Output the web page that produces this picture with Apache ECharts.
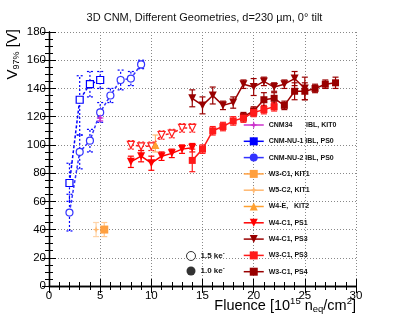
<!DOCTYPE html>
<html><head><meta charset="utf-8">
<script src="https://cdn.jsdelivr.net/npm/echarts@6.0.0/dist/echarts.min.js"></script>
<style>html,body{margin:0;padding:0;background:#fff}#c{width:409px;height:317px}</style>
</head><body><div id="c"></div>
<script>
// ---- data ----
const xTicks = [0, 5, 10, 15, 20, 25, 30];
const yTicks = [0, 20, 40, 60, 80, 100, 120, 140, 160, 180];

const cnm34X = [5], cnm34Y = [119], cnm34Err = [2];
const nu1X = [2, 3, 4, 5], nu1Y = [73, 132, 143, 146], nu1Lo = [60, 107, 134, 140], nu1Hi = [87, 149, 152, 152];
const nu2X = [2, 3, 4, 5, 6, 7, 8, 9], nu2Y = [52, 95, 103, 123, 135, 146, 147, 157], nu2Err = [13, 12, 8, 7, 5, 7, 5, 3];
const w3kX = [5.4], w3kY = [40], w3kErr = [5];
const w5kX = [4.6], w5kY = [40], w5kErr = [5];
const w4eX = [10.4], w4eY = [100], w4eLo = [95], w4eHi = [107];
const w4ps1X = [8, 9, 10, 11, 12, 13, 14], w4ps1Y = [88, 92, 87, 92, 94, 97, 98], w4ps1Err = [4, 4, 5, 3, 3, 3, 3];
const w4ps1oX = [8, 9, 10, 11, 12, 13, 14], w4ps1oY = [100, 99, 99, 107, 108, 112, 112], w4ps1oErr = [3, 3, 3, 3, 3, 3, 3];
const w4ps3X = [14, 15, 16, 17, 18, 19, 20, 21, 22, 23, 24, 25], w4ps3Y = [133, 128, 135, 128, 130, 143, 141, 145, 141, 143, 147, 140], w4ps3Err = [6, 6, 6, 3, 4, 3, 6, 3, 3, 3, 5, 8];
const w3ps3X = [14, 15, 16, 17, 18, 19, 20, 21, 22], w3ps3Y = [89, 97, 110, 113, 117, 119, 123, 125, 127], w3ps3Err = [8, 3, 3, 3, 3, 3, 3, 3, 3];
const w3ps4X = [19, 20, 21, 22, 23, 24, 25, 26, 27, 28], w3ps4Y = [120, 124, 132, 133, 128, 138, 138, 140, 143, 144], w3ps4Err = [3, 3, 5, 4, 3, 6, 6, 3, 3, 4];

const names = ['CNM34 IBL, KIT0', 'CNM-NU-1 IBL, PS0', 'CNM-NU-2 IBL, PS0', 'W3-C1, KIT1', 'W5-C2, KIT1', 'W4-E, KIT2', 'W4-C1, PS1', 'W4-C1, PS3', 'W3-C1, PS3', 'W3-C1, PS4'];
const labels = ['CNM34       IBL, KIT0', 'CNM-NU-1 IBL, PS0', 'CNM-NU-2 IBL, PS0', 'W3-C1, KIT1', 'W5-C2, KIT1', 'W4-E,   KIT2', 'W4-C1, PS1', 'W4-C1, PS3', 'W3-C1, PS3', 'W3-C1, PS4'];
const colors = ['#cc33cc', '#0000ff', '#3333ff', '#ffa040', '#ffb870', '#ffa030', '#ff0000', '#990000', '#ff1a1a', '#990000'];

// ---- styling ----
const F = 'Liberation Sans, Arial, Helvetica, sans-serif';
const STAR = 'path://M0,-10 L2.5,-2.5 L10,0 L2.5,2.5 L0,10 L-2.5,2.5 L-10,0 L-2.5,-2.5 Z';
const TDOWN = 'path://M-10,-9 L10,-9 L0,9 Z';
const TUP = 'path://M-10,9 L10,9 L0,-9 Z';

const pts = (xs, ys) => xs.map((x, i) => [x, ys[i]]);

function errSeries(id, xs, lo, hi, color, dotted, z) {
  return {
    type: 'custom', name: id + ' err', silent: true, z: z || 2,
    data: xs.map((x, i) => [x, lo[i], hi[i]]),
    encode: { x: 0, y: [1, 2] },
    renderItem: (params, api) => {
      const x = api.value(0);
      const p1 = api.coord([x, api.value(1)]), p2 = api.coord([x, api.value(2)]);
      const cw = 3;
      const st = { stroke: color, lineWidth: 1.2, lineDash: dotted ? [2, 2] : null };
      return { type: 'group', children: [
        { type: 'line', shape: { x1: p1[0], y1: p1[1], x2: p2[0], y2: p2[1] }, style: st },
        { type: 'line', shape: { x1: p1[0] - cw, y1: p1[1], x2: p1[0] + cw, y2: p1[1] }, style: st },
        { type: 'line', shape: { x1: p2[0] - cw, y1: p2[1], x2: p2[0] + cw, y2: p2[1] }, style: st }
      ] };
    }
  };
}
const sym = (ys, e) => ({ lo: ys.map((y, i) => y - e[i]), hi: ys.map((y, i) => y + e[i]) });

function lineSeries(name, xs, ys, o) {
  return {
    type: 'line', name: name, data: pts(xs, ys), z: 3,
    lineStyle: { color: o.color, width: 1.5, type: o.dotted ? [3, 2] : 'solid' },
    itemStyle: o.open ? { color: '#fff', borderColor: o.color, borderWidth: 1.2 } : { color: o.color },
    symbol: o.symbol, symbolSize: o.size || 7
  };
}

const series = [];
const e34 = sym(cnm34Y, cnm34Err), e2 = sym(nu2Y, nu2Err), e3k = sym(w3kY, w3kErr), e5k = sym(w5kY, w5kErr);
const eps1 = sym(w4ps1Y, w4ps1Err), eps1o = sym(w4ps1oY, w4ps1oErr), eps3 = sym(w4ps3Y, w4ps3Err), e3ps3 = sym(w3ps3Y, w3ps3Err), e3ps4 = sym(w3ps4Y, w3ps4Err);

series.push(errSeries('nu1', nu1X, nu1Lo, nu1Hi, '#0000ff', true));
series.push(errSeries('nu2', nu2X, e2.lo, e2.hi, '#0000ff', true));
series.push(errSeries('ps1o', w4ps1oX, eps1o.lo, eps1o.hi, '#ff2020', true));
series.push(errSeries('ps1', w4ps1X, eps1.lo, eps1.hi, '#ff0000', false));
series.push(errSeries('ps3', w4ps3X, eps3.lo, eps3.hi, '#990000', false));
series.push(errSeries('3ps3', w3ps3X, e3ps3.lo, e3ps3.hi, '#ff1a1a', false));
series.push(errSeries('3ps4', w3ps4X, e3ps4.lo, e3ps4.hi, '#990000', false));
series.push(errSeries('w3k', w3kX, e3k.lo, e3k.hi, '#ffc890', false));
series.push(errSeries('w5k', w5kX, e5k.lo, e5k.hi, '#ffd4a8', false));
series.push(errSeries('w4e', w4eX, w4eLo, w4eHi, '#ffb870', false));
series.push(errSeries('c34', cnm34X, e34.lo, e34.hi, '#cc33cc', false));

series.push(lineSeries(names[7], w4ps3X, w4ps3Y, { color: colors[7], symbol: TDOWN, size: 8 }));
series.push(lineSeries(names[9], w3ps4X, w3ps4Y, { color: colors[9], symbol: 'rect', size: 7 }));
series.push(lineSeries(names[8], w3ps3X, w3ps3Y, { color: colors[8], symbol: 'rect', size: 7 }));
series.push(lineSeries(names[6], w4ps1X, w4ps1Y, { color: colors[6], symbol: TDOWN, size: 8 }));
series.push(lineSeries('W4-C1, PS1 (1.5 ke)', w4ps1oX, w4ps1oY, { color: '#ff2020', symbol: TDOWN, size: 7, open: true, dotted: true }));
series.push(lineSeries(names[1], nu1X, nu1Y, { color: colors[1], symbol: 'rect', size: 7, open: true, dotted: true }));
series.push(lineSeries(names[2], nu2X, nu2Y, { color: colors[2], symbol: 'circle', size: 7, open: true, dotted: true }));
series.push(lineSeries(names[3], w3kX, w3kY, { color: colors[3], symbol: 'rect', size: 8 }));
series.push(lineSeries(names[4], w5kX, w5kY, { color: colors[4], symbol: STAR, size: 7 }));
series.push(lineSeries(names[5], w4eX, w4eY, { color: colors[5], symbol: TUP, size: 8 }));
series.push(lineSeries(names[0], cnm34X, cnm34Y, { color: colors[0], symbol: STAR, size: 8 }));
series.push({ type: 'scatter', name: '1.5 ke', data: [], itemStyle: { color: '#000' } });
series.push({ type: 'scatter', name: '1.0 ke', data: [], itemStyle: { color: '#000' } });

const axisCommon = {
  type: 'value',
  axisLine: { show: true, lineStyle: { color: '#000', width: 1.3 } },
  axisTick: { show: true, inside: true, length: 7, lineStyle: { color: '#000', width: 1 } },
  minorTick: { show: true, length: 4, lineStyle: { color: '#000', width: 1 } },
  splitLine: { show: false },
  minorSplitLine: { show: false }
};
const labelStyle = { fontFamily: F, fontSize: 11.5, color: '#000' };

const option = {
  animation: false,
  backgroundColor: '#fff',
  title: { text: '3D CNM, Different Geometries, d=230 \u00b5m, 0\u00b0 tilt', left: 'center', top: 7,
    textStyle: { fontFamily: F, fontSize: 11, fontWeight: 'normal', color: '#111' } },
  grid: { left: 49, right: 53, top: 32, bottom: 31 },
  xAxis: [
    Object.assign({}, axisCommon, { min: xTicks[0], max: xTicks[xTicks.length - 1], interval: 5, position: 'bottom',
      minorTick: Object.assign({}, axisCommon.minorTick, { splitNumber: 5 }),
      axisLabel: Object.assign({ margin: 4 }, labelStyle),
      splitLine: { show: true, lineStyle: { type: [1, 2], color: '#888', width: 1 } } }),
    Object.assign({}, axisCommon, { min: xTicks[0], max: xTicks[xTicks.length - 1], interval: 5, position: 'top',
      minorTick: Object.assign({}, axisCommon.minorTick, { splitNumber: 5 }),
      axisLabel: { show: false } })
  ],
  yAxis: [
    Object.assign({}, axisCommon, { min: yTicks[0], max: yTicks[yTicks.length - 1], interval: 20, position: 'left',
      minorTick: Object.assign({}, axisCommon.minorTick, { splitNumber: 4 }),
      axisLabel: Object.assign({ margin: 3 }, labelStyle),
      splitLine: { show: true, lineStyle: { type: [1, 2], color: '#888', width: 1 } } }),
    Object.assign({}, axisCommon, { min: yTicks[0], max: yTicks[yTicks.length - 1], interval: 20, position: 'right',
      minorTick: Object.assign({}, axisCommon.minorTick, { splitNumber: 4 }),
      axisLabel: { show: false } })
  ],
  legend: [{
    orient: 'vertical', left: 238, top: 115, itemWidth: 20, itemHeight: 10, itemGap: 6.3,
    selectedMode: false,
    textStyle: { fontFamily: F, fontSize: 7, fontWeight: 'bold', color: '#111', lineHeight: 10 },
    formatter: n => labels[names.indexOf(n)],
    data: names.map((n, i) => ({ name: n, itemStyle: { color: colors[i], borderColor: colors[i], borderWidth: 0 }, lineStyle: { type: 'solid', width: 1.5, color: colors[i] } }))
  }, {
    orient: 'vertical', left: 181, top: 245, itemWidth: 9, itemHeight: 9, itemGap: 4,
    selectedMode: false,
    textStyle: { fontFamily: F, fontSize: 8, fontWeight: 'bold', color: '#111',
      rich: { s: { fontFamily: F, fontSize: 6, fontWeight: 'bold', padding: [0, 0, 6, 0] } } },
    formatter: n => n + '{s|-}',
    data: [
      { name: '1.5 ke', icon: 'circle', itemStyle: { color: '#fff', borderColor: '#000', borderWidth: 1 } },
      { name: '1.0 ke', icon: 'circle', itemStyle: { color: '#000' } }
    ]
  }],
  graphic: [
    { type: 'text', x: 13, y: 29, rotation: Math.PI / 2, z: 10,
      style: { text: '{v|V}{s|97%}{v| [V]}', align: 'right', verticalAlign: 'middle',
        rich: { v: { fontFamily: F, fontSize: 15, fill: '#000' }, s: { fontFamily: F, fontSize: 9, fill: '#000', padding: [7, 0, 0, 0] } } } },
    { type: 'text', right: 53, top: 296, z: 10,
      style: { text: 'Fluence [10{p|15} n{b|eq}/cm{p|2}]',
        rich: { p: { fontFamily: F, fontSize: 9.5, fill: '#000', padding: [0, 0, 9, 0] }, b: { fontFamily: F, fontSize: 9.5, fill: '#000', padding: [7, 0, 0, 0] } },
        fontFamily: F, fontSize: 14.5, fill: '#000' } }
  ],
  series: series
};
const chart = echarts.init(document.getElementById('c'), null, { renderer: 'canvas' });
chart.setOption(option);
</script></body></html>
